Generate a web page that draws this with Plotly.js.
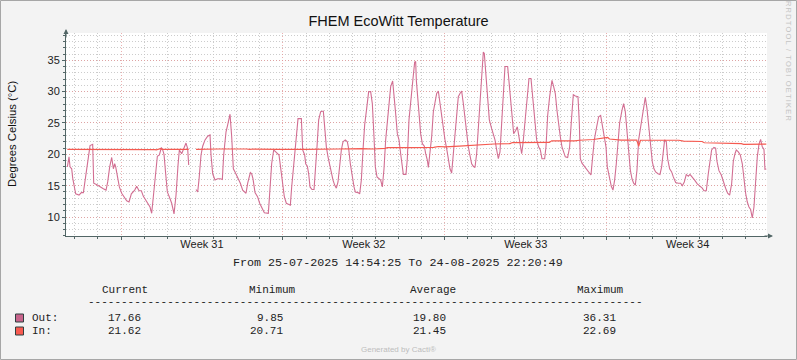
<!DOCTYPE html>
<html><head><meta charset="utf-8">
<script src="https://cdn.plot.ly/plotly-3.0.1.min.js"></script>
<style>html,body{margin:0;padding:0;background:#f3f3f3;}#chart{width:797px;height:360px;}</style>
</head><body><div id="chart"></div>
<script>
// ---------- DATA ----------
const chartTitle = 'FHEM EcoWitt Temperature';
const yTitle = 'Degrees Celsius (°C)';
const startTime = '2025-07-25 14:54:25';
const endTime = '2025-08-24 22:20:49';
const periodText = 'From 25-07-2025 14:54:25 To 24-08-2025 22:20:49';
const weekStarts = '2025-07-28';
const weekCenters = ['2025-07-31 12:00', '2025-08-07 12:00', '2025-08-14 12:00', '2025-08-21 12:00'];
const weekLabels = ['Week 31', 'Week 32', 'Week 33', 'Week 34'];
const yTicks = [10, 15, 20, 25, 30, 35];

// [days since start, °C]
const outReadings = [
[0.059,18.0],[0.131,19.6],[0.174,18.0],[0.246,17.7],[0.290,16.2],[0.347,14.8],[0.419,13.7],[0.563,13.5],[0.664,13.9],[0.751,13.9],
[0.808,15.4],[0.895,17.7],[0.953,19.6],[1.039,21.4],[1.154,21.6],[1.198,15.4],[1.356,15.1],[1.471,14.8],[1.615,14.5],[1.731,14.3],
[1.803,15.6],[1.889,18.0],[1.976,19.5],[2.048,17.7],[2.105,18.5],[2.149,18.0],[2.221,16.4],[2.307,14.8],[2.408,13.8],[2.509,13.2],
[2.624,12.6],[2.725,12.4],[2.826,13.7],[2.970,14.3],[3.057,14.9],[3.157,14.2],[3.258,14.2],[3.345,13.3],[3.446,12.7],[3.547,11.9],
[3.633,11.6],[3.705,10.6],[3.777,13.3],[3.864,16.4],[3.950,19.7],[4.037,19.9],[4.123,21.1],[4.181,20.7],[4.238,20.0],[4.310,16.9],
[4.382,14.0],[4.469,13.2],[4.570,12.2],[4.671,10.5],[4.757,13.5],[4.844,18.3],[4.901,20.7],[5.002,20.1],[5.088,20.8],[5.189,21.8],
[5.261,20.9],[5.305,18.3],[5.46,null],[5.622,14.4],[5.694,14.0],[5.752,16.0],[5.838,19.9],[5.910,21.3],[6.011,22.3],[6.126,22.9],
[6.227,23.1],[6.270,19.9],[6.343,16.9],[6.443,15.9],[6.558,16.1],[6.674,16.1],[6.760,16.0],[6.818,19.9],[6.919,23.6],[6.991,24.7],
[7.092,26.4],[7.164,22.8],[7.236,17.7],[7.308,17.2],[7.423,16.4],[7.539,15.4],[7.640,14.3],[7.784,13.8],[7.856,15.4],[7.971,17.1],
[8.029,16.9],[8.086,16.1],[8.173,13.9],[8.288,13.2],[8.374,12.2],[8.475,11.4],[8.576,10.7],[8.749,10.6],[8.821,14.3],[8.893,18.5],
[8.980,20.7],[9.081,20.4],[9.153,20.1],[9.210,19.9],[9.297,17.4],[9.369,14.8],[9.441,13.2],[9.527,12.2],[9.700,11.9],[9.758,14.8],
[9.844,18.5],[9.931,21.7],[10.032,25.7],[10.176,25.7],[10.234,20.7],[10.320,19.9],[10.363,18.5],[10.435,18.1],[10.493,16.9],[10.551,14.8],
[10.637,14.4],[10.724,14.4],[10.781,16.9],[10.853,21.2],[10.925,25.5],[11.012,26.8],[11.127,26.9],[11.185,24.5],[11.257,21.2],[11.329,19.6],
[11.401,18.3],[11.473,17.5],[11.545,15.9],[11.617,15.1],[11.689,14.6],[11.761,15.6],[11.833,18.0],[11.905,20.7],[11.977,22.0],[12.078,22.3],
[12.165,22.0],[12.222,20.9],[12.294,18.5],[12.366,16.4],[12.453,14.8],[12.510,14.0],[12.626,13.9],[12.698,13.7],[12.770,15.9],[12.842,20.7],
[12.914,24.7],[13.000,27.3],[13.087,30.0],[13.173,30.0],[13.245,28.1],[13.317,22.8],[13.375,18.0],[13.447,16.4],[13.519,16.1],[13.606,15.9],
[13.678,14.8],[13.750,17.7],[13.822,22.3],[13.894,25.0],[13.966,28.4],[14.038,30.8],[14.124,31.7],[14.182,29.7],[14.254,26.5],[14.326,23.3],
[14.398,22.3],[14.470,20.1],[14.542,18.5],[14.586,16.8],[14.701,16.8],[14.758,19.3],[14.830,25.5],[14.903,28.9],[15.004,32.1],[15.076,34.7],
[15.119,34.8],[15.148,31.8],[15.205,28.9],[15.263,26.0],[15.335,23.3],[15.407,21.7],[15.494,21.3],[15.551,20.1],[15.623,19.1],[15.667,17.9],
[15.739,20.1],[15.811,22.8],[15.883,26.8],[15.955,28.6],[16.027,29.7],[16.099,30.1],[16.157,28.4],[16.243,26.5],[16.315,24.1],[16.387,22.3],
[16.459,20.9],[16.531,19.3],[16.603,17.7],[16.675,17.0],[16.747,19.9],[16.819,23.1],[16.891,26.2],[16.963,29.2],[17.035,29.7],[17.107,30.1],
[17.180,28.1],[17.252,25.5],[17.324,22.8],[17.396,21.2],[17.468,19.8],[17.540,18.5],[17.612,18.1],[17.684,17.9],[17.756,20.1],[17.828,24.5],
[17.900,28.1],[17.972,33.1],[18.044,36.31],[18.087,36.1],[18.145,32.8],[18.232,29.2],[18.304,25.5],[18.405,24.1],[18.477,23.3],[18.549,22.3],
[18.621,20.7],[18.693,19.3],[18.765,20.4],[18.837,24.5],[18.909,30.2],[18.981,34.0],[19.096,34.0],[19.154,31.8],[19.226,28.6],[19.298,26.0],
[19.356,23.3],[19.442,23.8],[19.514,24.4],[19.586,22.8],[19.644,21.2],[19.702,20.1],[19.759,21.7],[19.846,25.3],[19.918,28.6],[20.019,32.1],
[20.105,32.1],[20.177,29.2],[20.263,25.2],[20.350,22.3],[20.436,21.2],[20.509,20.7],[20.581,19.3],[20.696,19.3],[20.754,21.2],[20.826,26.2],
[20.912,29.2],[21.013,31.8],[21.085,30.8],[21.157,29.7],[21.229,27.0],[21.301,24.4],[21.373,22.8],[21.445,21.2],[21.517,20.4],[21.589,19.6],
[21.690,19.5],[21.777,21.2],[21.849,25.2],[21.935,29.5],[22.022,29.3],[22.137,29.2],[22.195,25.0],[22.238,19.3],[22.310,18.6],[22.411,18.1],
[22.526,17.6],[22.627,16.9],[22.699,16.7],[22.771,19.6],[22.843,22.3],[22.930,24.1],[23.031,26.0],[23.117,26.2],[23.203,24.4],[23.290,22.3],
[23.348,21.2],[23.405,18.0],[23.492,16.4],[23.578,14.9],[23.650,14.3],[23.722,15.9],[23.794,18.5],[23.866,21.5],[23.938,25.0],[24.039,27.0],
[24.111,28.1],[24.183,26.8],[24.255,23.6],[24.327,20.7],[24.400,17.5],[24.472,16.1],[24.544,15.4],[24.616,15.1],[24.688,17.5],[24.760,22.3],
[24.832,23.9],[24.904,25.4],[24.976,27.6],[25.048,29.1],[25.120,27.3],[25.207,23.9],[25.279,22.3],[25.351,18.8],[25.423,17.7],[25.495,17.2],
[25.596,16.9],[25.682,16.8],[25.754,18.0],[25.812,20.4],[25.884,22.3],[25.956,22.0],[26.014,19.3],[26.100,17.7],[26.187,17.2],[26.259,16.4],
[26.360,15.5],[26.475,15.4],[26.576,15.4],[26.648,15.0],[26.734,15.6],[26.820,16.8],[26.907,16.5],[26.979,16.8],[27.080,16.4],[27.181,15.9],
[27.296,15.3],[27.397,15.0],[27.512,14.6],[27.584,14.2],[27.685,14.2],[27.771,16.9],[27.843,19.3],[27.915,20.7],[28.016,21.1],[28.089,21.0],
[28.146,18.9],[28.233,17.4],[28.334,16.7],[28.420,15.6],[28.521,14.6],[28.608,13.8],[28.694,13.5],[28.781,15.3],[28.853,18.9],[28.925,20.1],
[28.982,20.7],[29.069,20.4],[29.155,19.9],[29.242,18.5],[29.314,15.9],[29.386,13.8],[29.458,12.4],[29.530,11.6],[29.602,11.2],[29.674,9.85],
[29.746,11.6],[29.818,15.9],[29.890,19.6],[29.962,21.6],[30.034,22.4],[30.106,21.2],[30.179,20.8],[30.222,17.6],[30.279,17.66]
];

const inReadings = [
[0.059,20.80],[2.30,20.80],[3.20,20.85],[3.40,20.80],[3.85,20.75],[3.90,20.71],[3.96,20.80],[4.09,20.90],[4.15,20.80],[5.305,20.80],
[5.46,null],[5.622,20.80],[6.30,20.90],[6.60,20.85],[7.80,20.85],[7.95,20.78],[8.10,20.85],[8.90,20.90],[9.20,20.80],[10.30,20.80],
[11.30,20.90],[11.80,20.85],[12.80,20.90],[13.30,20.85],[13.80,20.95],[13.90,21.08],[15.00,21.08],[15.90,21.10],[16.10,21.25],[16.40,21.20],
[17.00,21.30],[17.50,21.45],[17.90,21.55],[18.50,21.65],[19.20,21.72],[19.30,21.88],[20.90,21.90],[21.00,22.15],[22.00,22.15],[22.20,22.25],
[22.80,22.37],[23.30,22.60],[23.42,22.69],[23.50,22.45],[23.80,22.35],[24.00,22.28],[24.68,22.28],[24.76,21.30],[24.84,22.25],[26.50,22.25],
[26.70,22.10],[27.50,22.05],[27.60,21.85],[28.60,21.80],[28.70,21.72],[29.20,21.70],[29.30,21.60],[29.60,21.58],[29.70,21.68],[29.90,21.62],
[30.279,21.62]
];

const seriesNames = ['Out:', 'In:'];
const seriesColors = ['#d26e92', '#f55a50'];
const swatchColors = ['#c8648c', '#f85a50'];
const statHeaders = ['Current', 'Minimum', 'Average', 'Maximum'];
const statCurrent = ['17.66', '21.62'];
const statMinimum = ['9.85', '20.71'];
const statAverage = ['19.80', '21.45'];
const statMaximum = ['36.31', '22.69'];

// ---------- BUILD ----------
const t0 = Date.UTC(2025, 6, 25, 14, 54, 25);
const toDate = d => new Date(t0 + d * 86400000).toISOString().slice(0, 19).replace('T', ' ');

const W = 797, H = 360, M = {l: 66, r: 30, t: 33, b: 124};
const PW = W - M.l - M.r, PH = H - M.t - M.b;
const px = x => (x - M.l) / PW;
const py = y => (H - M.b - y) / PH;

const axisColor = '#526666';
const sans = 'Liberation Sans, Arial, sans-serif';
const mono = 'Liberation Mono, Courier New, monospace';

const traces = [
  {x: outReadings.map(r => toDate(r[0])), y: outReadings.map(r => r[1]), type: 'scatter', mode: 'lines',
   line: {color: seriesColors[0], width: 1.1}, connectgaps: false, xaxis: 'x', yaxis: 'y', hoverinfo: 'skip'},
  {x: inReadings.map(r => toDate(r[0])), y: inReadings.map(r => r[1]), type: 'scatter', mode: 'lines',
   line: {color: seriesColors[1], width: 1.2}, connectgaps: false, xaxis: 'x2', yaxis: 'y', hoverinfo: 'skip'}
];

const ann = [];
const A = (text, x, y, o) => ann.push(Object.assign({text, x: px(x), y: py(y), xref: 'paper', yref: 'paper',
  showarrow: false, xanchor: 'left', yanchor: 'middle', font: {family: mono, size: 11, color: '#222'}}, o || {}));

// axis title
A(yTitle, 12, 134, {xanchor: 'center', textangle: -90, font: {family: sans, size: 11.3, color: '#111'}});
// period line
A(periodText, 398, 263, {xanchor: 'center', font: {family: mono, size: 11.7, color: '#222'}});
// stats header
const headX = [100, 247, 408, 575];
statHeaders.forEach((h, i) => A(h, headX[i], 290));
A('-'.repeat(84), 86, 302);
const rowY = [318, 331];
const valRight = [143, 285, 448, 618];
seriesNames.forEach((n, r) => {
  A(n, 30, rowY[r]);
  [statCurrent, statMinimum, statAverage, statMaximum].forEach((col, c) => A(col[r], valRight[c], rowY[r], {xanchor: 'right'}));
});
// watermark texts
A('<span style="letter-spacing:1.2px">RRDTOOL / TOBI OETIKER</span>', 789, 61,
  {xanchor: 'center', textangle: 90, font: {family: sans, size: 7.5, color: '#c4c4c4'}});
A('Generated by Cacti®', 398, 349, {xanchor: 'center', font: {family: sans, size: 8, color: '#bdbdbd'}});
// axis arrows
ann.push({x: 0, y: 1, xref: 'paper', yref: 'paper', showarrow: true, ax: 0, ay: 10, yshift: 4, text: '',
  arrowhead: 2, arrowsize: 1, arrowwidth: 1, arrowcolor: axisColor, standoff: 0});
ann.push({x: 1, y: 0, xref: 'paper', yref: 'paper', showarrow: true, ax: -10, ay: 0, xshift: 6, text: '',
  arrowhead: 2, arrowsize: 1, arrowwidth: 1, arrowcolor: axisColor, standoff: 0});

const shapes = [
  {type: 'rect', xref: 'paper', yref: 'paper', x0: px(0.5), x1: px(796.5), y0: py(359.5), y1: py(0.5),
   line: {color: '#a6a6a6', width: 1}, fillcolor: 'rgba(0,0,0,0)', layer: 'below'}
];
swatchColors.forEach((c, r) => shapes.push({type: 'rect', xref: 'paper', yref: 'paper',
  x0: px(15.5), x1: px(23.5), y0: py(rowY[r] + 4), y1: py(rowY[r] - 4),
  line: {color: '#2f3f3f', width: 1}, fillcolor: c}));

const gridRed = 'rgba(228,150,150,0.75)';
const gridGray = 'rgba(195,195,195,0.85)';

const layout = {
  width: W, height: H, margin: M,
  paper_bgcolor: '#f3f3f3', plot_bgcolor: '#ffffff',
  showlegend: false, hovermode: false,
  title: {text: chartTitle, x: 0.5, xanchor: 'center', xref: 'container', y: 1 - 21 / H, yanchor: 'middle', yref: 'container',
          font: {family: sans, size: 14.5, color: '#111'}},
  xaxis: {type: 'date', range: [startTime, endTime], tick0: weekStarts, dtick: 7 * 86400000,
    showticklabels: false, ticks: 'outside', ticklen: 3, tickcolor: axisColor,
    showgrid: true, gridcolor: gridRed, griddash: '1px,2px', gridwidth: 1,
    minor: {tick0: weekStarts, dtick: 86400000, showgrid: true, gridcolor: gridGray, griddash: '1px,2px', gridwidth: 1,
            ticks: 'outside', ticklen: 2, tickcolor: axisColor},
    showline: true, linecolor: axisColor, linewidth: 1, zeroline: false, fixedrange: true},
  xaxis2: {type: 'date', range: [startTime, endTime], overlaying: 'x', anchor: 'y', side: 'bottom',
    tickmode: 'array', tickvals: weekCenters, ticktext: weekLabels, ticks: '', showgrid: false, showline: false,
    zeroline: false, tickfont: {family: sans, size: 11, color: '#222'}, fixedrange: true},
  yaxis: {range: [6.98, 39.35], tickmode: 'array', tickvals: yTicks, ticks: 'outside', ticklen: 3, tickcolor: axisColor,
    tickfont: {family: sans, size: 11, color: '#222'},
    showgrid: true, gridcolor: gridRed, griddash: '1px,2px', gridwidth: 1,
    minor: {dtick: 1, tick0: 0, showgrid: true, gridcolor: gridGray, griddash: '1px,2px', gridwidth: 1,
            ticks: 'outside', ticklen: 2, tickcolor: axisColor},
    showline: true, linecolor: axisColor, linewidth: 1, zeroline: false, fixedrange: true},
  annotations: ann, shapes: shapes
};

Plotly.newPlot('chart', traces, layout, {staticPlot: true, displayModeBar: false});
</script>
</body></html>
